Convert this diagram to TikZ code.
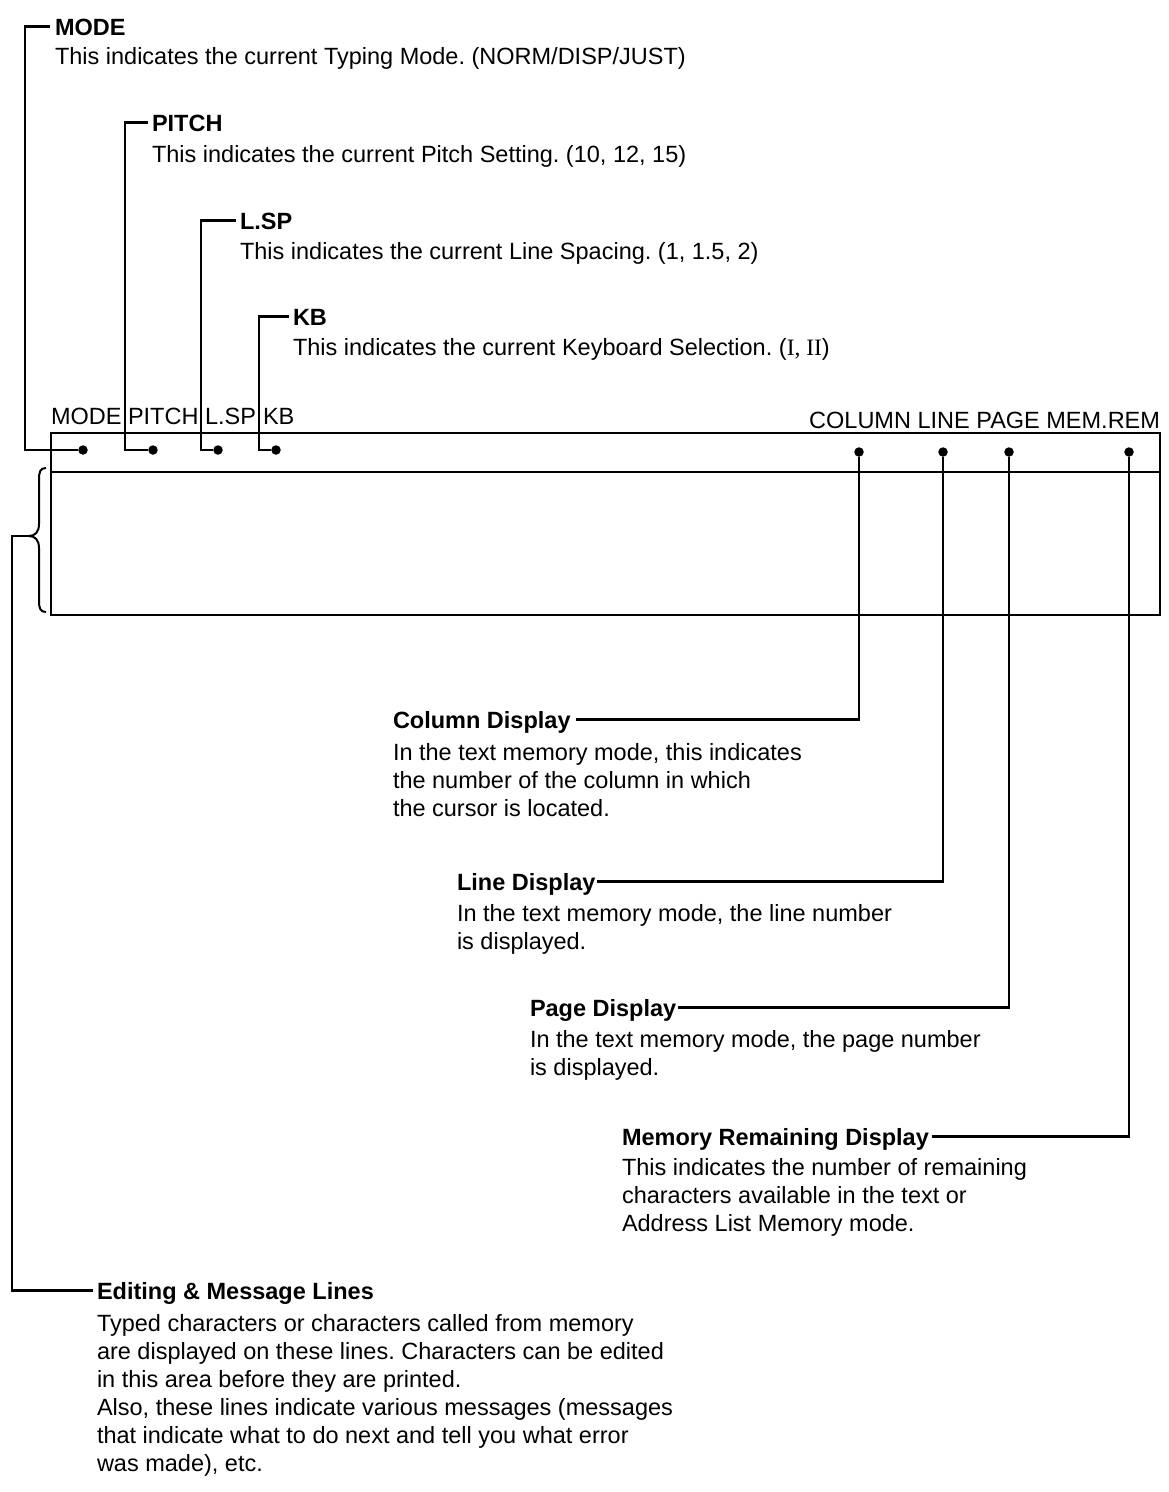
\documentclass[tikz,border=0pt]{standalone}
\usepackage{fontspec}
\setmainfont{Liberation Sans}
\newfontfamily\romnum{Liberation Serif}
\usetikzlibrary{calc}
\newcommand{\txtfont}{\fontsize{23.5}{28}\selectfont}
\frenchspacing
\begin{document}
\begin{tikzpicture}[x=1pt,y=-1pt,
  lbl/.style={anchor=base west, inner sep=0pt, outer sep=0pt, font=\txtfont},
  head/.style={lbl, font=\txtfont\bfseries},
  wire/.style={line width=2.5pt, line join=miter},
  dotn/.style={circle, fill=black, inner sep=0pt, minimum size=9.5pt},
]
\useasboundingbox (0,0) rectangle (1168,1492);

% display box
\draw[wire] (51,433) rectangle (1160,615);
\draw[wire] (51,472) -- (1160,472);

% header words
\node[lbl] (hmode)  at (51,424)  {MODE};
\node[lbl] (hpitch) at (128,424) {PITCH};
\node[lbl] (hlsp)   at (205,424) {L.SP};
\node[lbl] (hkb)    at (263,424) {KB};
\node[lbl, anchor=base east] (hright) at (1160,428) {COLUMN LINE PAGE MEM.REM};

% indicator dots
\node[dotn] (dmode)  at (83,450)  {};
\node[dotn] (dpitch) at (153,450) {};
\node[dotn] (dlsp)   at (218,450) {};
\node[dotn] (dkb)    at (276,450) {};
\node[dotn] (dcol)   at (859,452) {};
\node[dotn] (dline)  at (943,452) {};
\node[dotn] (dpage)  at (1009,452) {};
\node[dotn] (dmem)   at (1129,452) {};

% top labels
\node[head] (tmode) at (55,35) {MODE};
\node[lbl] (xmode) at (55,64) {This indicates the current Typing Mode. (NORM/DISP/JUST)};
\node[head] (tpitch) at (152,131) {PITCH};
\node[lbl] (xpitch) at (152,162) {This indicates the current Pitch Setting. (10, 12, 15)};
\node[head] (tlsp) at (240,229) {L.SP};
\node[lbl] (xlsp) at (240,259) {This indicates the current Line Spacing. (1, 1.5, 2)};
\node[head] (tkb) at (293,325) {KB};
\node[lbl] (xkb) at (293,355) {This indicates the current Keyboard Selection. ({\romnum I, II})};

\coordinate (cmode)  at (25,450);
\coordinate (cpitch) at (125,450);
\coordinate (clsp)   at (201,450);
\coordinate (ckb)    at (259,450);
\draw[wire] ($(tmode.base west)+(-5,-8.5)$) -| (cmode) -- (dmode);
\draw[wire] ($(tpitch.base west)+(-4,-8.5)$) -| (cpitch) -- (dpitch);
\draw[wire] ($(tlsp.base west)+(-4,-8.5)$) -| (clsp) -- (dlsp);
\draw[wire] ($(tkb.base west)+(-4,-8.5)$) -| (ckb) -- (dkb);

% bottom right labels
\node[head] (tcol) at (393,728) {Column Display};
\node[lbl] (xcol) at (393,760) {\begin{tabular}[t]{@{}l@{}}In the text memory mode, this indicates\\the number of the column in which\\the cursor is located.\end{tabular}};
\node[head] (tline) at (457,890) {Line Display};
\node[lbl] (xline) at (457,921) {\begin{tabular}[t]{@{}l@{}}In the text memory mode, the line number\\is displayed.\end{tabular}};
\node[head] (tpage) at (530,1016) {Page Display};
\node[lbl] (xpage) at (530,1047) {\begin{tabular}[t]{@{}l@{}}In the text memory mode, the page number\\is displayed.\end{tabular}};
\node[head] (tmem) at (622,1145) {Memory Remaining Display};
\node[lbl] (xmem) at (622,1175) {\begin{tabular}[t]{@{}l@{}}This indicates the number of remaining\\characters available in the text or\\Address List Memory mode.\end{tabular}};

\draw[wire] (dcol)  |- ($(tcol.base east)+(5,-8.5)$);
\draw[wire] (dline) |- ($(tline.base east)+(2,-8.5)$);
\draw[wire] (dpage) |- ($(tpage.base east)+(2,-8.5)$);
\draw[wire] (dmem)  |- ($(tmem.base east)+(3,-8.5)$);

% brace and editing lines
\draw[line width=2pt] (46,468) .. controls (40,468) and (39,472) .. (39,480) -- (39,524) .. controls (39,532) and (35,536) .. (29,536) .. controls (35,536) and (39,540) .. (39,548) -- (39,600) .. controls (39,608) and (40,612) .. (46,612);
\coordinate (btip) at (29,536);
\coordinate (bleft) at (12,536);
\node[head] (tedit) at (97,1299) {Editing \& Message Lines};
\node[lbl] (xedit) at (97,1331) {\begin{tabular}[t]{@{}l@{}}Typed characters or characters called from memory\\are displayed on these lines. Characters can be edited\\in this area before they are printed.\\Also, these lines indicate various messages (messages\\that indicate what to do next and tell you what error\\was made), etc.\end{tabular}};
\draw[wire] (btip) -- (bleft) |- ($(tedit.base west)+(-4,-8.5)$);
\end{tikzpicture}
\end{document}
